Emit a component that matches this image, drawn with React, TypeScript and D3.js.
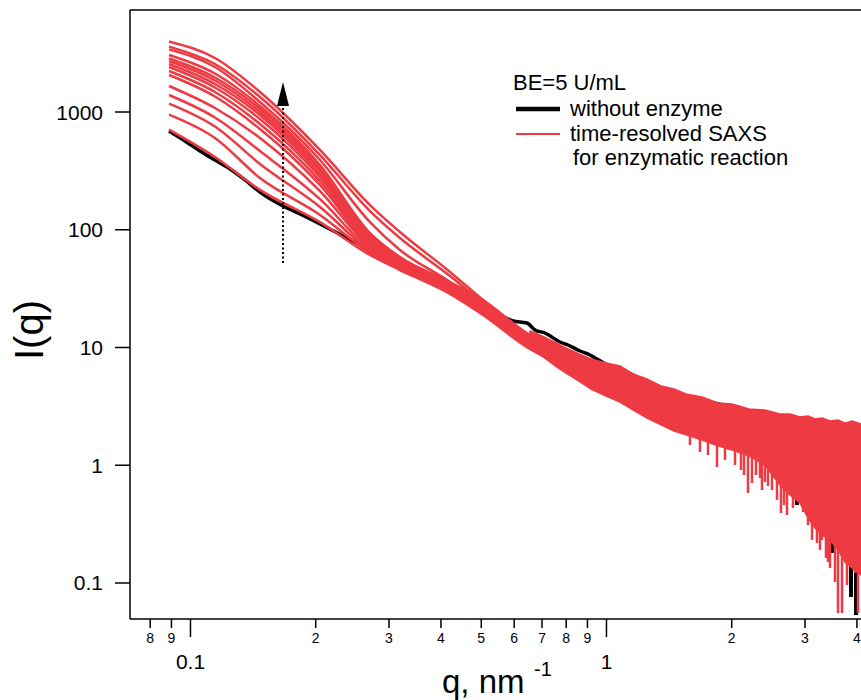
import React from "react";
import * as d3 from "d3";

// ---------- data ----------
// time-resolved SAXS curves: q (nm^-1) anchors and I(q) per curve
const redQ = [0.0888, 0.1145, 0.1469, 0.2048, 0.2701, 0.3188, 0.4205, 0.5048, 0.6547, 0.7731];
const redSeries = [
  [3970, 2874, 1479, 476, 162, 95.7, 43.8, 25.3, 11.58, 8.31],
  [3592, 2557, 1341, 431, 144, 85.1, 40.5, 23.9, 10.92, 7.99],
  [3401, 2411, 1216, 391, 116, 67.3, 36.0, 22.5, 10.5, 7.83],
  [3048, 2123, 1125, 355, 93.8, 58.7, 36.0, 25.3, 12.77, 9.9],
  [2847, 1963, 1061, 334, 90.2, 57.6, 35.3, 24.8, 12.52, 9.71],
  [2711, 1852, 1000, 316, 86.8, 56.4, 34.6, 24.3, 12.28, 9.52],
  [2557, 1729, 943, 297, 83.4, 55.3, 33.9, 23.9, 12.04, 9.34],
  [2411, 1615, 872, 280, 80.3, 54.3, 33.3, 23.4, 11.81, 9.16],
  [2229, 1479, 791, 259, 77.2, 53.2, 32.6, 23.0, 11.58, 8.98],
  [2062, 1354, 717, 240, 74.2, 52.2, 32.0, 22.1, 11.14, 8.81],
  [1663, 1081, 602, 213, 71.4, 51.2, 31.4, 21.6, 10.92, 8.47],
  [1394, 898, 466, 182, 68.6, 50.2, 30.8, 21.2, 10.71, 8.14],
  [1179, 753, 362, 156, 66.0, 48.3, 30.2, 20.4, 10.3, 7.83],
  [951, 602, 275, 133.5, 63.5, 46.4, 29.6, 19.6, 9.9, 7.53],
  [709, 415, 218, 116, 61.0, 45.5, 28.5, 18.9, 9.71, 7.24],
];

// without enzyme
const blackQ = [0.0888, 0.097, 0.1054, 0.1145, 0.1245, 0.1352, 0.1469, 0.1669, 0.1834, 0.2048,
  0.2351, 0.2701, 0.3188, 0.3915, 0.4445, 0.4965, 0.5546, 0.5958, 0.6438, 0.6733,
  0.7113, 0.7731, 0.8081, 0.8636, 0.9128, 0.9488, 1.0196, 1.0776, 1.272, 1.502,
  1.774, 2.094, 2.472, 2.919, 3.446, 4.024];
const blackI = [689, 567, 467, 391, 328, 265, 209, 159, 136, 112,
  86.8, 67.3, 49.2, 35.3, 27.9, 22.5, 18.9, 16.79, 16.15, 14.1,
  13.28, 11.14, 10.5, 9.34, 8.64, 7.99, 6.97, 6.57, 4.9, 4.03,
  3.44, 3.0, 2.62, 2.52, 2.2, 1.99];
const blackSpikeQ = [2.871, 3.484, 3.871, 3.98];
const blackSpikeLow = [0.46, 0.18, 0.076, 0.0535];

// noisy high-q region where the red curves overlap
const bandQ = [0.6547, 0.6998, 0.7476, 0.7993, 0.8588, 0.9179, 0.9972, 1.0776, 1.1579, 1.2512,
  1.3523, 1.4532, 1.5532, 1.6965, 1.8537, 2.0033, 2.2006, 2.4044, 2.6128, 2.7615,
  2.9186, 3.0508, 3.1711, 3.2963, 3.4456, 3.6017, 3.7441, 3.8919, 4.09];
const bandUpper = [13.81, 12.52, 11.14, 9.9, 8.81, 7.99, 7.39, 6.97, 5.96, 5.4,
  4.71, 4.44, 4.03, 3.8, 3.38, 3.31, 3.0, 2.95, 2.72, 2.72,
  2.57, 2.62, 2.47, 2.52, 2.38, 2.42, 2.28, 2.38, 2.24];
const bandLower = [9.71, 8.47, 7.1, 6.07, 5.19, 4.44, 3.87, 3.44, 2.95, 2.52,
  2.2, 1.95, 1.81, 1.64, 1.46, 1.35, 1.2, 1.005, 0.68, 0.559,
  0.478, 0.357, 0.293, 0.256, 0.232, 0.191, 0.151, 0.134, 0.117];
const spikeQ = [1.5875, 1.6778, 1.7539, 1.8434, 1.927, 2.0369, 2.1055, 2.1406, 2.1885, 2.2375,
  2.2877, 2.3389, 2.3649, 2.4044, 2.4447, 2.4995, 2.5696, 2.6271, 2.6713, 2.716,
  2.8076, 2.9676, 3.0508, 3.1193, 3.2065, 3.26, 3.2963, 3.3701, 3.4076, 3.4456,
  3.5424, 3.6017, 3.6825, 3.7857, 3.9572, 4.0235];
const spikeLow = [1.486, 1.296, 1.222, 0.966, 1.108, 1.005, 0.911, 0.826, 0.581, 0.707,
  0.826, 0.779, 0.616, 0.721, 0.666, 0.616, 0.507, 0.393, 0.46, 0.378,
  0.434, 0.401, 0.311, 0.232, 0.219, 0.191, 0.232, 0.163, 0.151, 0.134,
  0.102, 0.0556, 0.0556, 0.0962, 0.122, 0.0556];
const SPIKE_TOP = 1.9;

// arrow (time direction)
const arrowQ = 0.1669;
const arrowFrom = 52.2;
const arrowBase = 1125;
const arrowTip = 1798;

// axes
const yTicks = [0.1, 1, 10, 100, 1000];
const yTickLabels = ["0.1", "1", "10", "100", "1000"];
const xMajorTicks = [0.1, 1];
const xMajorLabels = ["0.1", "1"];
const xMinorTicks = [0.08, 0.09, 0.2, 0.3, 0.4, 0.5, 0.6, 0.7, 0.8, 0.9, 2, 3, 4];
const xMinorLabels = ["8", "9", "2", "3", "4", "5", "6", "7", "8", "9", "2", "3", "4"];

const RED = "#ee3a43";
const FONT = "'Liberation Sans', Arial, Helvetica, sans-serif";

export default function App() {
  const W = 861, H = 700;
  const L = 130, R = 861, T = 10, B = 619;
  const x = d3.scaleLog().domain([0.07155, 4.091]).range([L, R]);
  const y = d3.scaleLog().domain([0.04946, 7350]).range([B, T]);
  const lin = d3.line<[number, number]>().x(d => x(d[0])).y(d => y(d[1]));
  const smooth = d3.line<[number, number]>().x(d => x(d[0])).y(d => y(d[1])).curve(d3.curveMonotoneX);

  const blackPts: [number, number][] = blackQ.map((q, i) => [q, blackI[i]]);
  const upper: [number, number][] = bandQ.map((q, i) => [q, bandUpper[i]]);
  const lower: [number, number][] = bandQ.map((q, i) => [q, bandLower[i]]).reverse() as [number, number][];
  const bandPath = lin([...upper, ...lower]) + "Z";

  const ax = x(arrowQ);

  return (
    <svg width={W} height={H} style={{ position: "absolute", left: 0, top: 0, background: "#fff" }} fontFamily={FONT}>
      <defs>
        <clipPath id="plot">
          <rect x={L} y={T} width={R - L} height={B - T} />
        </clipPath>
      </defs>
      <g clipPath="url(#plot)">
        <path d={smooth(blackPts) || ""} fill="none" stroke="#000" strokeWidth={3.5} strokeLinejoin="round" />
        {blackSpikeQ.map((q, i) => (
          <line key={"bs" + i} x1={x(q)} x2={x(q)} y1={y(SPIKE_TOP)} y2={y(blackSpikeLow[i])} stroke="#000" strokeWidth={4} />
        ))}
        {redSeries.map((s, k) => (
          <path key={"r" + k} d={smooth(redQ.map((q, i) => [q, s[i]] as [number, number])) || ""}
            fill="none" stroke={RED} strokeWidth={2.5} />
        ))}
        <path d={bandPath} fill={RED} stroke={RED} strokeWidth={1.5} strokeLinejoin="round" />
        {spikeQ.map((q, i) => (
          <line key={"s" + i} x1={x(q)} x2={x(q)} y1={y(SPIKE_TOP)} y2={y(spikeLow[i])} stroke={RED} strokeWidth={2.5} />
        ))}
      </g>

      {/* arrow */}
      <line x1={ax} x2={ax} y1={y(arrowFrom)} y2={y(arrowBase)} stroke="#000" strokeWidth={2} strokeDasharray="2,2.5" />
      <path d={`M${ax},${y(arrowTip)}L${ax - 6},${y(arrowBase)}L${ax + 6},${y(arrowBase)}Z`} fill="#000" />

      {/* frame */}
      <line x1={L} x2={R} y1={T} y2={T} stroke="#000" strokeWidth={1.5} />
      <line x1={L} x2={L} y1={T} y2={B} stroke="#000" strokeWidth={1.5} />
      <line x1={L} x2={R} y1={B} y2={B} stroke="#000" strokeWidth={1.5} />

      {/* y axis */}
      {yTicks.map((v, i) => (
        <g key={"yt" + i}>
          <line x1={L - 15} x2={L} y1={y(v)} y2={y(v)} stroke="#000" strokeWidth={1.5} />
          <text x={L - 27} y={y(v)} textAnchor="end" dominantBaseline="central" fontSize={21}>{yTickLabels[i]}</text>
        </g>
      ))}
      <text transform={`translate(29,330) rotate(-90)`} textAnchor="middle" dominantBaseline="central" fontSize={40}>I(q)</text>

      {/* x axis */}
      {xMinorTicks.map((v, i) => (
        <g key={"xm" + i}>
          <line x1={x(v)} x2={x(v)} y1={B} y2={B + 9} stroke="#000" strokeWidth={1.5} />
          <text x={x(v)} y={B + 19} textAnchor="middle" dominantBaseline="central" fontSize={14}>{xMinorLabels[i]}</text>
        </g>
      ))}
      {xMajorTicks.map((v, i) => (
        <g key={"xM" + i}>
          <line x1={x(v)} x2={x(v)} y1={B} y2={B + 18} stroke="#000" strokeWidth={1.5} />
          <text x={x(v)} y={B + 42} textAnchor="middle" dominantBaseline="central" fontSize={21}>{xMajorLabels[i]}</text>
        </g>
      ))}
      <text x={442} y={693} fontSize={33}>q, nm</text>
      <text x={534} y={676} fontSize={20}>-1</text>

      {/* legend */}
      <text x={513} y={90} fontSize={22}>BE=5 U/mL</text>
      <line x1={516} x2={560} y1={109} y2={109} stroke="#000" strokeWidth={4.5} />
      <text x={570} y={116} fontSize={22}>without enzyme</text>
      <line x1={516} x2={560} y1={134} y2={134} stroke={RED} strokeWidth={2} />
      <text x={570} y={141} fontSize={22}>time-resolved SAXS</text>
      <text x={573} y={165} fontSize={22}>for enzymatic reaction</text>
    </svg>
  );
}
